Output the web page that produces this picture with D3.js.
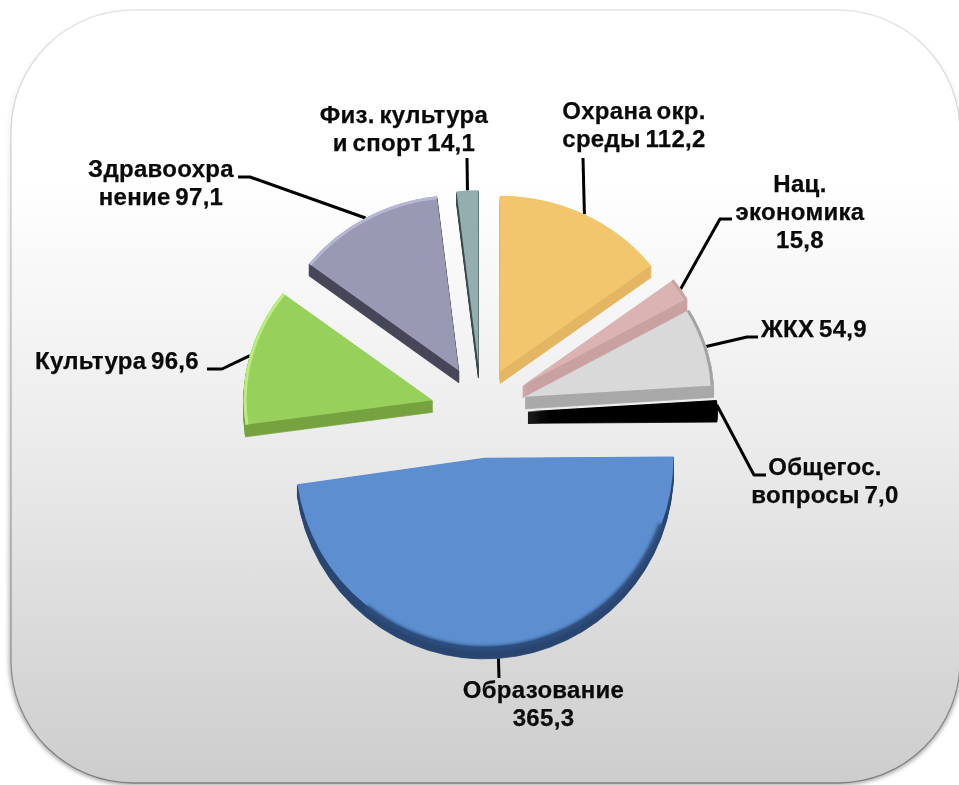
<!DOCTYPE html>
<html><head><meta charset="utf-8">
<script src="https://cdn.jsdelivr.net/npm/d3@7/dist/d3.min.js"></script>
<style>html,body{margin:0;padding:0;background:#fff;overflow:hidden}svg{display:block}</style>
</head><body><script>
// Data
const categories = ["Охрана окр. среды","Нац. экономика","ЖКХ","Общегос. вопросы","Образование","Культура","Здравоохранение","Физ. культура и спорт"];
const values = [112.2,15.8,54.9,7.0,365.3,96.6,97.1,14.1];
const labelLines = [["Охрана окр.","среды 112,2"],["Нац.","экономика","15,8"],["ЖКХ 54,9"],["Общегос.","вопросы 7,0"],["Образование","365,3"],["Культура 96,6"],["Здравоохра","нение 97,1"],["Физ. культура","и спорт 14,1"]];
// Styling / layout
const faceColors = ["#f2c66c","#dcb3b3","#d9d9d9","#000000","#5b8ed0","#98d05c","#9a99b4","#93aeae"];
const rimColors  = ["#e4b663","#c9a1a1","#a9a9a9","#000000","#2a4570","#76a340","#46465a","#3c4c4c"];
const bevelColors= [null,"#c9a3a3","#a3a3a3",null,"#2f4f7f","#b9ee7f","#b6b6d6",null];
const explode = [43,50,46,47,48,50,45,44];
const nudgeY  = [0,3,0,3,0,3,0,0];
const labelX = [634,800,814,825,543.5,117,161,404];
const labelBase = [119,192,337,475,698,369,177,123];
const lineStep = 28;
const elbows = [[],[[720,219],[732,219]],[[747,337],[758,337]],[[754,475],[766,475]],[],[[222,369],[207,369]],[[250,177],[238,177]],[]];
const leaderEnds = [[583,158],null,null,null,[499,678],null,null,[467,158]];
const W=959,H=785,cx=481,cy=410,R=189,depth=12,squash=0.93;

const svg=d3.select("body").append("svg").attr("width",W).attr("height",H);
const defs=svg.append("defs");
const bg=defs.append("linearGradient").attr("id","bg").attr("x1",0).attr("y1",0).attr("x2",0).attr("y2",1);
[[0,"#ffffff"],[0.22,"#ffffff"],[0.55,"#ececec"],[0.82,"#d9d9d9"],[1,"#cdcdcd"]].forEach(s=>bg.append("stop").attr("offset",s[0]).attr("stop-color",s[1]));
const edge=defs.append("linearGradient").attr("id","edge").attr("x1",0).attr("y1",0).attr("x2",0).attr("y2",1);
[[0,"#e4e4e4"],[0.3,"#c4c4c4"],[1,"#808080"]].forEach(s=>edge.append("stop").attr("offset",s[0]).attr("stop-color",s[1]));
const halo=defs.append("linearGradient").attr("id","halo").attr("x1",0).attr("y1",0).attr("x2",0).attr("y2",1);
[[0,"#ffffff"],[0.3,"#dddddd"],[1,"#999999"]].forEach(s=>halo.append("stop").attr("offset",s[0]).attr("stop-color",s[1]));
defs.append("filter").attr("id","soft").attr("x","-5%").attr("y","-5%").attr("width","110%").attr("height","110%").append("feGaussianBlur").attr("stdDeviation",0.6);
defs.append("filter").attr("id","ringBlur").attr("x","-10%").attr("y","-10%").attr("width","120%").attr("height","120%").append("feGaussianBlur").attr("stdDeviation",1.6);
defs.append("filter").attr("id","edgeBlur").attr("x","-5%").attr("y","-5%").attr("width","110%").attr("height","110%").append("feGaussianBlur").attr("stdDeviation",2.2);

// Panel
const panel={x:11,y:10,w:949,h:773,r:122};
svg.append("rect").attr("x",panel.x).attr("y",panel.y).attr("width",panel.w).attr("height",panel.h).attr("rx",panel.r)
  .attr("fill","none").attr("stroke","url(#halo)").attr("stroke-width",4).attr("filter","url(#edgeBlur)");
svg.append("rect").attr("x",panel.x).attr("y",panel.y).attr("width",panel.w).attr("height",panel.h).attr("rx",panel.r)
  .attr("fill","url(#bg)").attr("stroke","url(#edge)").attr("stroke-width",1.3);

// Pie
const pie=d3.pie().sort(null).value(d=>d).startAngle(0).endAngle(2*Math.PI);
const slices=pie(values).map((s,i)=>{
  const mid=(s.startAngle+s.endAngle)/2;
  const sy=Math.cos(mid)>0||Math.abs(mid-Math.PI/2)<0.1?squash:1;
  return Object.assign(s,{i,mid,sy,ax:cx+explode[i]*Math.sin(mid),ay:cy-explode[i]*Math.cos(mid)+nudgeY[i]});
});
const arc=d3.arc().innerRadius(0).outerRadius(R);
const ring=d3.arc().innerRadius(R-3).outerRadius(R);
const blueRing=d3.arc().innerRadius(R-4).outerRadius(R+1);

// Leaders
const leader=d3.line();
svg.append("g").selectAll("path").data(slices).join("path")
  .attr("d",s=>{
    const sx=s.ax+R*Math.sin(s.mid);
    const sy=s.ay-R*s.sy*Math.cos(s.mid)+(Math.cos(s.mid)<0?depth:0);
    const tail=leaderEnds[s.i]?[leaderEnds[s.i]]:elbows[s.i];
    return leader([[sx,sy],...tail]);
  })
  .attr("fill","none").attr("stroke","#000").attr("stroke-width",3).attr("stroke-linejoin","round");

// Slices, back to front
const order=d3.range(values.length).reverse();
const g=svg.append("g").attr("filter","url(#soft)");
order.forEach(i=>{
  const s=slices[i];
  const sl=g.append("g");
  d3.range(depth,0,-1).forEach(k=>{
    sl.append("path").attr("d",arc(s)).attr("fill",rimColors[i]).attr("stroke",rimColors[i]).attr("stroke-width",0.8)
      .attr("transform",`translate(${s.ax},${s.ay+k}) scale(1,${s.sy})`);
  });
  sl.append("path").attr("d",arc(s)).attr("fill",faceColors[i])
    .attr("transform",`translate(${s.ax},${s.ay}) scale(1,${s.sy})`);
  if(bevelColors[i]){
    const blurred=s.value>200;
    const shape=blurred?blueRing({startAngle:s.startAngle+0.35,endAngle:s.endAngle-0.75}):ring(s);
    sl.append("path").attr("d",shape).attr("fill",bevelColors[i])
      .attr("filter",blurred?"url(#ringBlur)":null)
      .attr("transform",`translate(${s.ax},${s.ay+(blurred?3:0)}) scale(1,${s.sy})`);
  }
});

// Labels
const lab=svg.append("g").attr("font-family","'Liberation Sans',Arial,sans-serif").attr("font-weight","bold").attr("font-size",24).attr("letter-spacing",0.3).attr("word-spacing",-2.3).attr("fill","#0a0a0a").attr("stroke","#0a0a0a").attr("stroke-width",0.25).attr("text-anchor","middle");
labelLines.forEach((lines,i)=>{
  const t=lab.append("text").attr("x",labelX[i]).attr("y",labelBase[i]);
  lines.forEach((ln,j)=>t.append("tspan").attr("x",labelX[i]).attr("dy",j?lineStep:0).text(ln));
});
</script></body></html>
